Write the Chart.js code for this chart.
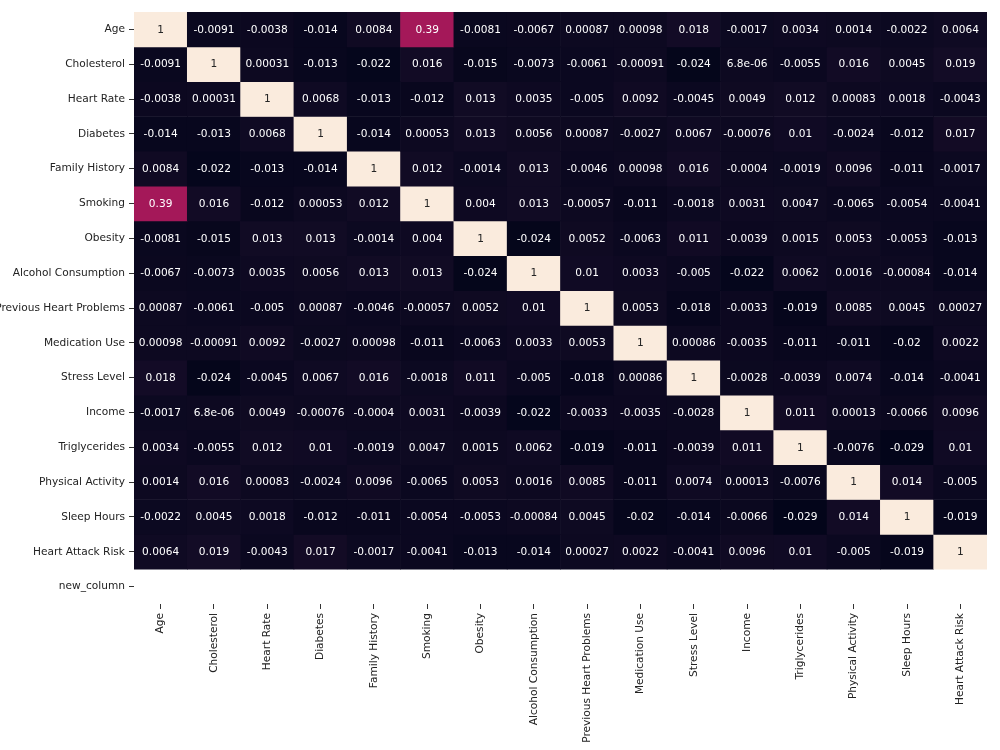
<!DOCTYPE html>
<html><head><meta charset="utf-8">
<script src="https://cdn.jsdelivr.net/npm/chart.js@4.4.0/dist/chart.umd.min.js"></script>
<style>html,body{margin:0;padding:0;background:#fff}#wrap{width:1000px;height:750px}</style>
</head><body><div id="wrap"><canvas id="c"></canvas></div>
<script>
const columns = ['Age','Cholesterol','Heart Rate','Diabetes','Family History','Smoking','Obesity','Alcohol Consumption','Previous Heart Problems','Medication Use','Stress Level','Income','Triglycerides','Physical Activity','Sleep Hours','Heart Attack Risk'];
const rowLabels = [...columns, 'new_column'];

const rowAge          = [1, -0.0091, -0.0038, -0.014, 0.0084, 0.39, -0.0081, -0.0067, 0.00087, 0.00098, 0.018, -0.0017, 0.0034, 0.0014, -0.0022, 0.0064];
const rowCholesterol  = [-0.0091, 1, 0.00031, -0.013, -0.022, 0.016, -0.015, -0.0073, -0.0061, -0.00091, -0.024, 6.8e-06, -0.0055, 0.016, 0.0045, 0.019];
const rowHeartRate    = [-0.0038, 0.00031, 1, 0.0068, -0.013, -0.012, 0.013, 0.0035, -0.005, 0.0092, -0.0045, 0.0049, 0.012, 0.00083, 0.0018, -0.0043];
const rowDiabetes     = [-0.014, -0.013, 0.0068, 1, -0.014, 0.00053, 0.013, 0.0056, 0.00087, -0.0027, 0.0067, -0.00076, 0.01, -0.0024, -0.012, 0.017];
const rowFamily       = [0.0084, -0.022, -0.013, -0.014, 1, 0.012, -0.0014, 0.013, -0.0046, 0.00098, 0.016, -0.0004, -0.0019, 0.0096, -0.011, -0.0017];
const rowSmoking      = [0.39, 0.016, -0.012, 0.00053, 0.012, 1, 0.004, 0.013, -0.00057, -0.011, -0.0018, 0.0031, 0.0047, -0.0065, -0.0054, -0.0041];
const rowObesity      = [-0.0081, -0.015, 0.013, 0.013, -0.0014, 0.004, 1, -0.024, 0.0052, -0.0063, 0.011, -0.0039, 0.0015, 0.0053, -0.0053, -0.013];
const rowAlcohol      = [-0.0067, -0.0073, 0.0035, 0.0056, 0.013, 0.013, -0.024, 1, 0.01, 0.0033, -0.005, -0.022, 0.0062, 0.0016, -0.00084, -0.014];
const rowPrevHeart    = [0.00087, -0.0061, -0.005, 0.00087, -0.0046, -0.00057, 0.0052, 0.01, 1, 0.0053, -0.018, -0.0033, -0.019, 0.0085, 0.0045, 0.00027];
const rowMedication   = [0.00098, -0.00091, 0.0092, -0.0027, 0.00098, -0.011, -0.0063, 0.0033, 0.0053, 1, 0.00086, -0.0035, -0.011, -0.011, -0.02, 0.0022];
const rowStress       = [0.018, -0.024, -0.0045, 0.0067, 0.016, -0.0018, 0.011, -0.005, -0.018, 0.00086, 1, -0.0028, -0.0039, 0.0074, -0.014, -0.0041];
const rowIncome       = [-0.0017, 6.8e-06, 0.0049, -0.00076, -0.0004, 0.0031, -0.0039, -0.022, -0.0033, -0.0035, -0.0028, 1, 0.011, 0.00013, -0.0066, 0.0096];
const rowTriglyc      = [0.0034, -0.0055, 0.012, 0.01, -0.0019, 0.0047, 0.0015, 0.0062, -0.019, -0.011, -0.0039, 0.011, 1, -0.0076, -0.029, 0.01];
const rowPhysical     = [0.0014, 0.016, 0.00083, -0.0024, 0.0096, -0.0065, 0.0053, 0.0016, 0.0085, -0.011, 0.0074, 0.00013, -0.0076, 1, 0.014, -0.005];
const rowSleep        = [-0.0022, 0.0045, 0.0018, -0.012, -0.011, -0.0054, -0.0053, -0.00084, 0.0045, -0.02, -0.014, -0.0066, -0.029, 0.014, 1, -0.019];
const rowRisk         = [0.0064, 0.019, -0.0043, 0.017, -0.0017, -0.0041, -0.013, -0.014, 0.00027, 0.0022, -0.0041, 0.0096, 0.01, -0.005, -0.019, 1];

const matrix = [rowAge,rowCholesterol,rowHeartRate,rowDiabetes,rowFamily,rowSmoking,rowObesity,rowAlcohol,rowPrevHeart,rowMedication,rowStress,rowIncome,rowTriglyc,rowPhysical,rowSleep,rowRisk];

const FONT = {family:'"DejaVu Sans", sans-serif', size:10.6};
const vmin = Math.min(...matrix.flat()), vmax = Math.max(...matrix.flat());
const stops = [[0,3,5,26],[1/7,53,25,62],[2/7,112,31,87],[3/7,173,23,89],[4/7,225,51,66],[5/7,243,118,81],[6/7,246,180,143],[1,250,235,221]];
function rgbOf(v){
  const t = Math.max(0, Math.min(1, (v - vmin) / (vmax - vmin)));
  for (let k = 1; k < stops.length; k++) {
    if (t <= stops[k][0]) {
      const a = stops[k-1], b = stops[k], f = (t - a[0]) / (b[0] - a[0]);
      return [0,1,2].map(c => a[c+1] + (b[c+1] - a[c+1]) * f);
    }
  }
  return stops[stops.length-1].slice(1);
}
function cmap(v){ const c = rgbOf(v); return `rgb(${c.map(Math.round).join(',')})`; }
function textColor(v){
  const c = rgbOf(v).map(x => { x /= 255; return x <= 0.03928 ? x/12.92 : Math.pow((x+0.055)/1.055, 2.4); });
  const L = 0.2126*c[0] + 0.7152*c[1] + 0.0722*c[2];
  return L > 0.408 ? '#262626' : '#ffffff';
}
function fmt(v){
  if (v === 0) return '0';
  let e = Math.floor(Math.log10(Math.abs(Number(v.toPrecision(2)))));
  if (e < -4 || e >= 2) {
    let [m, ex] = v.toExponential(1).split('e');
    if (m.includes('.')) m = m.replace(/0+$/,'').replace(/\.$/,'');
    const sign = ex[0] === '-' ? '-' : '+';
    let d = ex.replace(/^[+-]/,''); if (d.length < 2) d = '0' + d;
    return m + 'e' + sign + d;
  }
  let s = v.toPrecision(2);
  if (s.includes('.')) s = s.replace(/0+$/,'').replace(/\.$/,'');
  return s;
}

const annot = {
  id: 'annot',
  afterDatasetsDraw(chart){
    const ctx = chart.ctx;
    ctx.save();
    ctx.font = `${FONT.size}px ${FONT.family}`;
    ctx.textAlign = 'center'; ctx.textBaseline = 'middle';
    chart.data.datasets.forEach((ds, i) => {
      const meta = chart.getDatasetMeta(i);
      meta.data.forEach((el, j) => {
        const p = el.getProps(['x','y','base'], true);
        const v = matrix[i][j];
        ctx.fillStyle = textColor(v);
        ctx.fillText(fmt(v), p.x, (p.y + p.base) / 2 + 0.5);
      });
    });
    ctx.restore();
  }
};

const datasets = matrix.map((row, i) => ({
  label: rowLabels[i],
  data: row.map(() => [i, i + 1]),
  backgroundColor: row.map(cmap),
  borderWidth: 0,
  barPercentage: 1,
  categoryPercentage: 1,
  grouped: false
}));

const tickGrid = {display:true, drawOnChartArea:false, drawTicks:true, tickLength:5, tickColor:'#333', tickWidth:1};

new Chart(document.getElementById('c'), {
  type: 'bar',
  data: { labels: columns, datasets },
  plugins: [annot],
  options: {
    responsive: true, maintainAspectRatio: false, animation: false,
    layout: { padding: { top: 12, right: 13, left: 0, bottom: 0 } },
    plugins: { legend: { display: false }, tooltip: { enabled: false } },
    scales: {
      x: {
        type: 'category', offset: true,
        grid: Object.assign({}, tickGrid, {offset:false}),
        border: { display: false },
        ticks: { minRotation: 90, maxRotation: 90, autoSkip: false, padding: 4, color: '#222', font: FONT },
        afterFit(s){ s.height = 146; }
      },
      y: {
        type: 'linear', min: 0, max: rowLabels.length, reverse: true,
        afterBuildTicks(s){ s.ticks = rowLabels.map((_, i) => ({ value: i + 0.5 })); },
        grid: tickGrid,
        border: { display: false },
        ticks: { autoSkip: false, padding: 4, color: '#222', font: FONT, callback: (v) => rowLabels[Math.floor(v)] },
        afterFit(s){ s.width = 134; }
      }
    }
  }
});
</script>
</body></html>
